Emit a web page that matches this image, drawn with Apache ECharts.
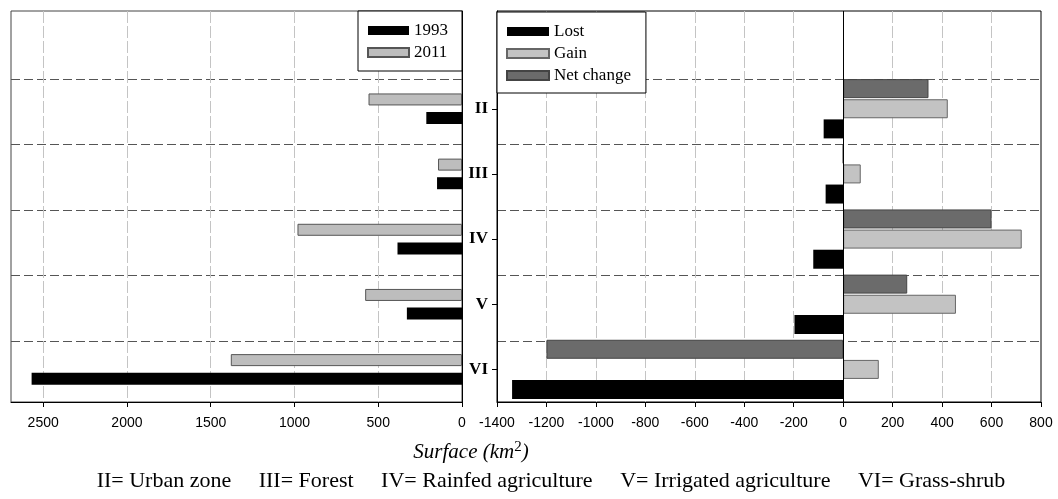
<!DOCTYPE html>
<html><head><meta charset="utf-8">
<script src="https://cdn.jsdelivr.net/npm/echarts@6/dist/echarts.min.js"></script>
<style>html,body{margin:0;padding:0;background:#fff}#c{width:1058px;height:499px}</style>
</head><body><div id="c"></div>
<script>
// Categories (top band is empty, reserved for the legends)
const categories = ['', 'II', 'III', 'IV', 'V', 'VI'];
// Left panel: surface per land-cover class (km2)
const surface1993 = [null, 213, 149, 385, 329, 2569];
const surface2011 = [null, 558, 143, 982, 578, 1380];
// Right panel: change 1993-2011 (km2)
const lost = [null, -79, -71, -121, -197, -1339];
const gain = [null, 423, 71, 722, 456, 144];
const netChange = [null, 345, 0, 600, 259, -1200];
// Texts
const leftLegend = ['1993', '2011'];
const rightLegend = ['Lost', 'Gain', 'Net change'];
const captionItems = ['II= Urban zone', 'III= Forest', 'IV= Rainfed agriculture', 'V= Irrigated agriculture', 'VI= Grass-shrub'];

const SERIF = 'Liberation Serif, Times New Roman, serif';
const SANS = 'Liberation Sans, Arial, sans-serif';

const chart = echarts.init(document.getElementById('c'), null, {renderer: 'canvas'});

const hDash = {show: true, showMinLine: false, showMaxLine: false, lineStyle: {color: '#555', width: 1, type: [9, 4]}};
const vDash = {show: true, showMinLine: false, showMaxLine: false, lineStyle: {color: '#c4c4c4', width: 1, type: [12, 3]}};
const tickLabel = {color: '#000', fontFamily: SANS, fontSize: 14, margin: 14, formatter: function (v) { return String(v); }};

const legendCommon = {
  orient: 'vertical', itemWidth: 41, itemHeight: 9, itemGap: 5, itemTextGap: 10,
  textStyle: {fontFamily: SERIF, fontSize: 17, color: '#000', lineHeight: 17},
  borderColor: '#000', borderWidth: 1, backgroundColor: '#fff', borderRadius: 0,
  selectedMode: false, icon: 'rect'
};

const hidden = {show: false};

const option = {
  animation: false,
  backgroundColor: '#fff',
  grid: [
    {left: 11, top: 11, width: 451, height: 391, show: true, borderColor: '#444', borderWidth: 1},
    {left: 497, top: 11, width: 544, height: 391, show: true, borderColor: '#000', borderWidth: 1},
    // overlay grids carrying only the dashed class separators
    {left: 11, top: 13.5, width: 451, height: 393, show: false},
    {left: 497, top: 13.5, width: 544, height: 393, show: false}
  ],
  legend: [
    Object.assign({}, legendCommon, {data: leftLegend, left: 358, top: 11, padding: [11, 14, 10, 9]}),
    Object.assign({}, legendCommon, {data: rightLegend, left: 497, top: 12, padding: [11, 15, 9, 9], itemWidth: 42, itemTextGap: 9})
  ],
  xAxis: [
    {gridIndex: 0, type: 'value', inverse: true, min: 0, max: 2692, interval: 500,
     axisLine: {show: true, onZero: false, lineStyle: {color: '#000'}},
     axisTick: {show: true, length: 5, lineStyle: {color: '#000'}},
     axisLabel: Object.assign({showMaxLabel: false}, tickLabel),
     splitLine: vDash},
    {gridIndex: 1, type: 'value', min: -1400, max: 800, interval: 200,
     axisLine: {show: true, onZero: false, lineStyle: {color: '#000'}},
     axisTick: {show: true, length: 5, lineStyle: {color: '#000'}},
     axisLabel: tickLabel,
     splitLine: vDash},
    {gridIndex: 2, type: 'value', min: 0, max: 1, show: false},
    {gridIndex: 3, type: 'value', min: 0, max: 1, show: false}
  ],
  yAxis: [
    {gridIndex: 0, type: 'category', inverse: true, data: categories, position: 'right',
     axisLine: {show: true, onZero: false, lineStyle: {color: '#000'}}, axisTick: hidden, axisLabel: hidden,
     splitLine: hidden},
    {gridIndex: 1, type: 'category', inverse: true, data: categories, position: 'left',
     axisLine: {show: true, onZero: false, lineStyle: {color: '#000'}},
     axisTick: {show: true, alignWithLabel: true, length: 5, interval: function (i) { return i > 0; }, lineStyle: {color: '#000'}},
     axisLabel: {show: true, fontFamily: SERIF, fontWeight: 'bold', fontSize: 17, color: '#000', margin: 9},
     splitLine: hidden},
    {gridIndex: 2, type: 'category', inverse: true, data: categories,
     axisLine: hidden, axisTick: hidden, axisLabel: hidden, splitLine: hDash},
    {gridIndex: 3, type: 'category', inverse: true, data: categories,
     axisLine: hidden, axisTick: hidden, axisLabel: hidden, splitLine: hDash}
  ],
  series: [
    {name: '2011', type: 'bar', xAxisIndex: 0, yAxisIndex: 0, data: surface2011, barWidth: 12, barGap: '55%',
     itemStyle: {color: '#bdbdbd', borderColor: '#555', borderWidth: 1}},
    {name: '1993', type: 'bar', xAxisIndex: 0, yAxisIndex: 0, data: surface1993, barWidth: 12, barGap: '55%',
     itemStyle: {color: '#000', borderColor: '#000', borderWidth: 0}},
    {name: 'Net change', type: 'bar', xAxisIndex: 1, yAxisIndex: 1, data: netChange, barWidth: 19, barGap: '6%',
     itemStyle: {color: '#6b6b6b', borderColor: '#444', borderWidth: 1}},
    {name: 'Gain', type: 'bar', xAxisIndex: 1, yAxisIndex: 1, data: gain, barWidth: 19, barGap: '6%',
     itemStyle: {color: '#c3c3c3', borderColor: '#666', borderWidth: 1}},
    {name: 'Lost', type: 'bar', xAxisIndex: 1, yAxisIndex: 1, data: lost, barWidth: 19, barGap: '6%',
     itemStyle: {color: '#000', borderColor: '#000', borderWidth: 0},
     markLine: {silent: true, symbol: 'none', label: {show: false}, animation: false,
       lineStyle: {color: '#000', width: 1, type: 'solid'}, data: [{xAxis: 0}]}}
  ],
  graphic: [
    {type: 'text', x: 471, y: 452, silent: true,
     style: {text: '{a|Surface (km}{s|2}{a|)}', align: 'center', verticalAlign: 'middle',
       rich: {a: {fontFamily: SERIF, fontStyle: 'italic', fontSize: 21, fill: '#000'},
              s: {fontFamily: SERIF, fontSize: 15, fill: '#000', padding: [0, 0, 9, 0]}}}},
    {type: 'text', x: 551, y: 481, silent: true,
     style: {text: captionItems.join('     '), align: 'center', verticalAlign: 'middle',
       fontFamily: SERIF, fontSize: 22, fill: '#000'}}
  ]
};
chart.setOption(option);
</script></body></html>
